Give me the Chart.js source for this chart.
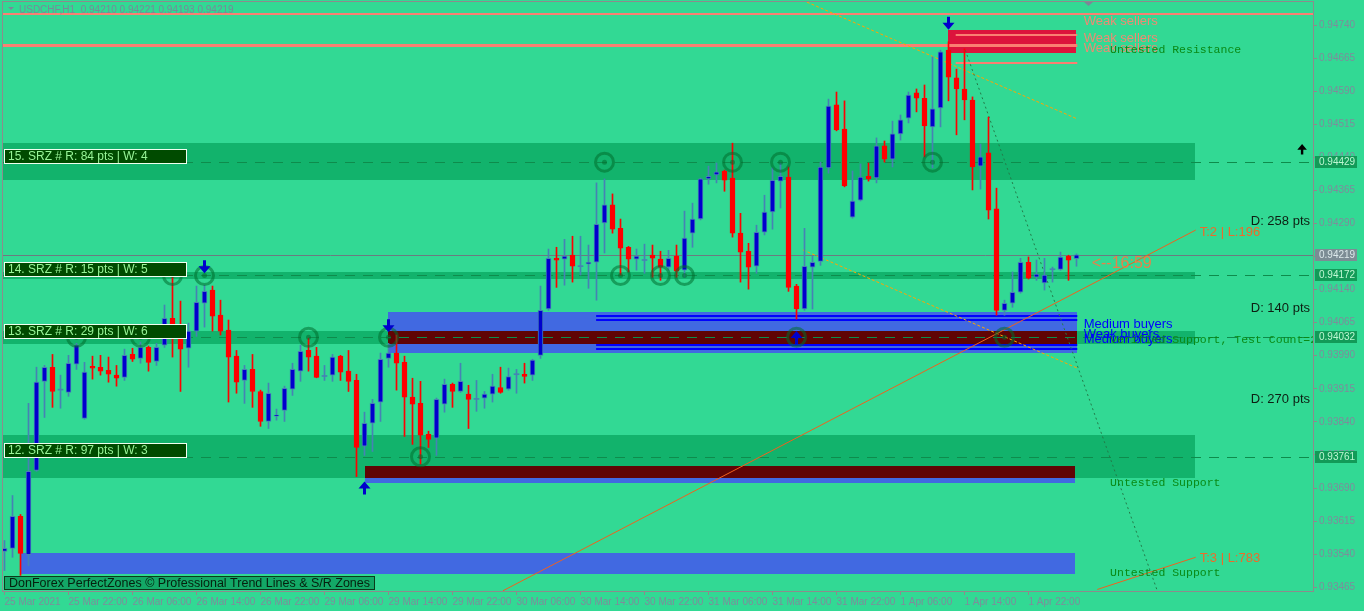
<!DOCTYPE html>
<html>
<head>
<meta charset="utf-8">
<script src="https://cdn.jsdelivr.net/npm/chart.js@4.4.1/dist/chart.umd.min.js"></script>
<style>
  html, body { margin: 0; padding: 0; background: #32D994; }
  #wrap { width: 1364px; height: 611px; }
</style>
</head>
<body>
<div id="wrap"><canvas id="c" width="1364" height="611"></canvas></div>
<script>
// USDCHF H1, one bar per hour starting 25 Mar 2021 14:00
const opens = [0.93546,0.93553,0.93626,0.93539,0.93730,0.93932,0.93964,0.93912,0.93907,0.93971,
  0.93848,0.93966,0.93964,0.93957,0.93946,0.93941,0.93993,0.93984,0.94009,0.93977,
  0.94014,0.94075,0.94048,0.94007,0.94046,0.94109,0.94139,0.94082,0.94048,0.93989,
  0.93934,0.93959,0.93909,0.93841,0.93853,0.93866,0.93914,0.93955,0.94002,0.93989,
  0.93943,0.93946,0.93989,0.93955,0.93934,0.93785,0.93837,0.93885,0.93984,0.93996,
  0.93975,0.93896,0.93882,0.93812,0.93803,0.93880,0.93925,0.93909,0.93903,0.93891,
  0.93894,0.93903,0.93918,0.93914,0.93947,0.93948,0.93946,0.93991,0.94096,0.94211,
  0.94209,0.94218,0.94192,0.94198,0.94202,0.94291,0.94332,0.94279,0.94236,0.94209,
  0.94206,0.94218,0.94209,0.94191,0.94216,0.94184,0.94268,0.94300,0.94391,0.94400,
  0.94409,0.94393,0.94268,0.94227,0.94193,0.94270,0.94316,0.94386,0.94395,0.94148,
  0.94096,0.94191,0.94204,0.94416,0.94559,0.94504,0.94304,0.94343,0.94397,0.94393,
  0.94466,0.94436,0.94493,0.94529,0.94586,0.94574,0.94509,0.94552,0.94683,0.94620,
  0.94595,0.94570,0.94420,0.94450,0.94323,0.94093,0.94109,0.94134,0.94202,0.94168,
  0.94155,0.94185,0.94186,0.94216,0.94210];
const highs = [0.93571,0.93673,0.93630,0.93882,0.93964,0.93968,0.93993,0.93946,0.93991,0.94018,
  0.93975,0.93989,0.93991,0.93987,0.93968,0.94005,0.94007,0.94021,0.94012,0.94018,
  0.94105,0.94177,0.94114,0.94064,0.94148,0.94150,0.94148,0.94116,0.94071,0.94002,
  0.93968,0.93993,0.93912,0.93928,0.93869,0.93921,0.93973,0.94014,0.94030,0.94009,
  0.93968,0.93993,0.93991,0.94002,0.93948,0.93862,0.93891,0.93996,0.94018,0.94037,
  0.93989,0.93939,0.93932,0.93819,0.93894,0.93937,0.93928,0.93973,0.93923,0.93934,
  0.93909,0.93948,0.93964,0.93962,0.93959,0.93973,0.93982,0.94148,0.94232,0.94236,
  0.94254,0.94261,0.94261,0.94241,0.94382,0.94391,0.94357,0.94300,0.94238,0.94232,
  0.94243,0.94241,0.94227,0.94229,0.94241,0.94318,0.94336,0.94393,0.94420,0.94427,
  0.94411,0.94472,0.94313,0.94245,0.94286,0.94354,0.94416,0.94427,0.94418,0.94152,
  0.94279,0.94216,0.94429,0.94572,0.94588,0.94568,0.94409,0.94425,0.94427,0.94484,
  0.94477,0.94522,0.94536,0.94588,0.94595,0.94604,0.94668,0.94683,0.94702,0.94640,
  0.94686,0.94577,0.94470,0.94531,0.94370,0.94116,0.94180,0.94211,0.94214,0.94207,
  0.94211,0.94191,0.94225,0.94218,0.94221];
const lows = [0.93503,0.93533,0.93492,0.93514,0.93728,0.93850,0.93873,0.93871,0.93898,0.93959,
  0.93846,0.93937,0.93946,0.93930,0.93921,0.93934,0.93977,0.93973,0.93955,0.93968,
  0.94009,0.93987,0.93909,0.93964,0.94034,0.94055,0.94046,0.94037,0.93885,0.93905,
  0.93882,0.93873,0.93830,0.93825,0.93844,0.93841,0.93900,0.93932,0.93955,0.93940,
  0.93934,0.93932,0.93934,0.93909,0.93716,0.93764,0.93773,0.93841,0.93964,0.93912,
  0.93807,0.93789,0.93744,0.93782,0.93764,0.93862,0.93873,0.93907,0.93825,0.93864,
  0.93871,0.93885,0.93905,0.93912,0.93905,0.93928,0.93934,0.93984,0.94093,0.94145,
  0.94150,0.94157,0.94173,0.94143,0.94116,0.94223,0.94268,0.94173,0.94180,0.94184,
  0.94177,0.94168,0.94161,0.94184,0.94168,0.94168,0.94236,0.94298,0.94379,0.94382,
  0.94363,0.94259,0.94157,0.94141,0.94177,0.94264,0.94277,0.94325,0.94136,0.94073,
  0.94093,0.94096,0.94195,0.94404,0.94500,0.94373,0.94302,0.94341,0.94386,0.94382,
  0.94429,0.94418,0.94479,0.94518,0.94543,0.94441,0.94416,0.94509,0.94568,0.94491,
  0.94525,0.94366,0.94368,0.94300,0.94082,0.94082,0.94100,0.94132,0.94164,0.94161,
  0.94139,0.94157,0.94184,0.94161,0.94193];
const closes = [0.93553,0.93626,0.93542,0.93728,0.93930,0.93964,0.93909,0.93913,0.93973,0.94014,
  0.93953,0.93962,0.93955,0.93948,0.93939,0.93991,0.93982,0.94009,0.93975,0.94009,
  0.94075,0.94059,0.94005,0.94046,0.94111,0.94136,0.94080,0.94046,0.93987,0.93930,
  0.93959,0.93909,0.93841,0.93905,0.93855,0.93916,0.93959,0.94000,0.93987,0.93941,
  0.93944,0.93987,0.93953,0.93932,0.93782,0.93837,0.93882,0.93982,0.93996,0.93973,
  0.93896,0.93880,0.93810,0.93800,0.93891,0.93925,0.93909,0.93932,0.93891,0.93892,
  0.93903,0.93921,0.93907,0.93943,0.93948,0.93943,0.93980,0.94093,0.94211,0.94207,
  0.94216,0.94193,0.94193,0.94202,0.94288,0.94332,0.94277,0.94234,0.94209,0.94216,
  0.94207,0.94211,0.94191,0.94211,0.94182,0.94257,0.94300,0.94391,0.94397,0.94407,
  0.94388,0.94268,0.94225,0.94191,0.94270,0.94316,0.94388,0.94397,0.94145,0.94096,
  0.94193,0.94202,0.94418,0.94556,0.94502,0.94375,0.94341,0.94395,0.94391,0.94466,
  0.94436,0.94493,0.94525,0.94581,0.94574,0.94511,0.94550,0.94679,0.94622,0.94595,
  0.94570,0.94418,0.94441,0.94320,0.94093,0.94109,0.94134,0.94202,0.94166,0.94175,
  0.94173,0.94186,0.94214,0.94207,0.94219];

const timeIdx = [0, 8, 16, 24, 32, 40, 48, 56, 64, 72, 80, 88, 96, 104, 112, 120, 128];
const timeLabels = ["25 Mar 2021", "25 Mar 22:00", "26 Mar 06:00", "26 Mar 14:00", "26 Mar 22:00",
  "29 Mar 06:00", "29 Mar 14:00", "29 Mar 22:00", "30 Mar 06:00", "30 Mar 14:00", "30 Mar 22:00",
  "31 Mar 06:00", "31 Mar 14:00", "31 Mar 22:00", "1 Apr 06:00", "1 Apr 14:00", "1 Apr 22:00"];
const priceTicks = [0.94740, 0.94665, 0.94590, 0.94515, 0.94440, 0.94365, 0.94290, 0.94215, 0.94140,
  0.94065, 0.93990, 0.93915, 0.93840, 0.93765, 0.93690, 0.93615, 0.93540, 0.93465];

// S/R zones
const zoneNames = ["15. SRZ # R: 84 pts | W: 4", "14. SRZ # R: 15 pts | W: 5",
  "13. SRZ # R: 29 pts | W: 6", "12. SRZ # R: 97 pts | W: 3"];
const zoneLevels = [0.94429, 0.94172, 0.94032, 0.93761];
const zoneHighs = [0.94472, 0.94181, 0.94046, 0.93810];
const zoneLows = [0.94388, 0.94164, 0.94017, 0.93712];
const zoneEnd = 148.8;

// touches of the zones (bar index, level)
const touchIdx = [9, 17, 21, 25, 38, 48, 52, 75, 77, 82, 85, 91, 97, 99, 116, 125];
const touchLevel = [0.94032, 0.94032, 0.94172, 0.94172, 0.94032, 0.94032, 0.93761, 0.94429,
  0.94172, 0.94172, 0.94172, 0.94429, 0.94429, 0.94032, 0.94429, 0.94032];

// supply / demand boxes
const boxFrom = [47.95, 45.05, 1.95];
const boxTo = [134.1, 133.8, 133.8];
const boxHigh = [0.94089, 0.93741, 0.93542];
const boxLow = [0.93997, 0.93701, 0.93494];
const coreFrom = [47.95, 45.05];
const coreTo = [134.1, 133.8];
const coreHigh = [0.94046, 0.93739];
const coreLow = [0.94017, 0.93712];
const buyLines = [0.94080, 0.94071, 0.94014, 0.94005];
const buyLineFrom = 73.95;
const sellBox = [117.9, 133.9, 0.94729, 0.94677];
const sellLines = [0.94718, 0.94654];
const resistLines = [0.94765, 0.94694];

// signal arrows
const arrowIdx = [25, 48, 118, 45, 99];
const arrowTip = [0.94177, 0.94043, 0.94729, 0.93705, 0.94046];
const arrowDown = [true, true, true, false, false];

// trend lines [index, price]
const channelA = [[100.3, 0.94792], [134.1, 0.94527]];
const channelB = [[99.8, 0.94230], [134.1, 0.93962]];
const trendT2 = [[62.3, 0.93457], [148.9, 0.94275]];
const trendT3 = [[136.6, 0.93460], [148.9, 0.93533]];
const dropLine = [[120.1, 0.94683], [144.1, 0.93457]];

// right side labels
const sellerLevels = [0.94739, 0.94702, 0.94678];
const buyerTexts = ["Medium buyers", "Weak buyers", "Medium buyers"];
const buyerLevels = [0.94054, 0.94031, 0.94020];
const srTexts = ["Untested Resistance", "Verified Support, Test Count=2", "Untested Support", "Untested Support"];
const srLevels = [0.94676, 0.94020, 0.93694, 0.93490];
const distTexts = ["D: 258 pts", "D: 140 pts", "D: 270 pts"];
const distLevels = [0.94286, 0.94089, 0.93883];
const trendTexts = ["T:2 | L:196", "T:3 | L:783"];
const trendTextLevels = [0.94261, 0.93522];

const last = opens.length - 1;
const bg = '#32D994';
const BULL = '#0000CD', BEAR = '#FF0000', STEEL = '#4682B4';

const isDoji = i => Math.abs(closes[i] - opens[i]) < 0.000015;
const bodyData = opens.map((o, i) => ({ x: i, y: [o, closes[i]] }));
const wickData = opens.map((o, i) => ({ x: i, y: [lows[i], highs[i]] }));
const bodyFill = opens.map((o, i) => isDoji(i) ? STEEL : (closes[i] > o ? BULL : BEAR));
const bodyLine = opens.map((o, i) => isDoji(i) ? STEEL : (closes[i] > o ? STEEL : BEAR));
const bodyBw = opens.map((o, i) => isDoji(i) ? 0 : 1);
const wickCol = opens.map((o, i) => closes[i] >= o || isDoji(i) ? STEEL : BEAR);
const touchData = touchIdx.map((v, i) => ({ x: v, y: touchLevel[i] }));

function hline(c, x1, x2, y, color, w, dash) {
  c.save();
  c.strokeStyle = color; c.lineWidth = w; c.setLineDash(dash || []);
  const yy = w % 2 ? Math.round(y) + 0.5 : Math.round(y);
  c.beginPath(); c.moveTo(x1, yy); c.lineTo(x2, yy); c.stroke();
  c.restore();
}
function seg(c, X, Y, pts, color, w, dash) {
  c.save();
  c.strokeStyle = color; c.lineWidth = w; c.setLineDash(dash || []);
  c.beginPath(); c.moveTo(X(pts[0][0]), Y(pts[0][1])); c.lineTo(X(pts[1][0]), Y(pts[1][1])); c.stroke();
  c.restore();
}
function arrow(c, x, tip, down, color, size) {
  const s = size || 1, d = down ? -1 : 1;
  c.save(); c.fillStyle = color;
  c.beginPath();
  c.moveTo(x, tip);
  c.lineTo(x - 6 * s, tip + d * 7 * s);
  c.lineTo(x - 1.5 * s, tip + d * 7 * s);
  c.lineTo(x - 1.5 * s, tip + d * 13 * s);
  c.lineTo(x + 1.5 * s, tip + d * 13 * s);
  c.lineTo(x + 1.5 * s, tip + d * 7 * s);
  c.lineTo(x + 6 * s, tip + d * 7 * s);
  c.closePath(); c.fill();
  c.restore();
}

const mt4 = {
  id: 'mt4',
  beforeDraw(chart) {
    const c = chart.ctx;
    c.save(); c.fillStyle = bg; c.fillRect(0, 0, chart.width, chart.height); c.restore();
  },
  beforeDatasetsDraw(chart) {
    const c = chart.ctx, a = chart.chartArea;
    const X = v => chart.scales.x.getPixelForValue(v);
    const Y = v => chart.scales.y.getPixelForValue(v);
    c.save();
    c.beginPath(); c.rect(a.left, a.top, a.right - a.left, a.bottom - a.top); c.clip();

    // zones
    c.fillStyle = '#12B36C';
    zoneLevels.forEach((lv, i) => {
      const y1 = Math.round(Y(zoneHighs[i])), y2 = Math.round(Y(zoneLows[i]));
      c.fillRect(a.left, y1, Math.round(X(zoneEnd)) - a.left, y2 - y1);
    });
    // demand boxes
    c.fillStyle = '#4169E1';
    boxFrom.forEach((f, i) => {
      const x1 = Math.round(X(f)), x2 = Math.round(X(boxTo[i]));
      const y1 = Math.round(Y(boxHigh[i])), y2 = Math.round(Y(boxLow[i]));
      c.fillRect(x1, y1, x2 - x1, y2 - y1);
    });
    c.fillStyle = '#600404';
    coreFrom.forEach((f, i) => {
      const x1 = Math.round(X(f)), x2 = Math.round(X(coreTo[i]));
      const y1 = Math.round(Y(coreHigh[i])), y2 = Math.round(Y(coreLow[i]));
      c.fillRect(x1, y1, x2 - x1, y2 - y1);
    });
    buyLines.forEach(lv => hline(c, X(buyLineFrom), X(boxTo[0]), Y(lv), '#0000FF', 2));

    // supply box
    c.fillStyle = '#DC143C';
    {
      const x1 = Math.round(X(sellBox[0])), x2 = Math.round(X(sellBox[1]));
      const y1 = Math.round(Y(sellBox[2])), y2 = Math.round(Y(sellBox[3]));
      c.fillRect(x1, y1, x2 - x1, y2 - y1);
    }
    sellLines.forEach(lv => hline(c, X(sellBox[0] + 1), X(134.1), Y(lv), '#FA8072', 2));
    hline(c, a.left, a.right, Y(resistLines[0]), '#FA8072', 2);
    hline(c, a.left, X(134.1), Y(resistLines[1]), '#FA8072', 3);

    // zone mid lines
    zoneLevels.forEach(lv => hline(c, a.left, a.right, Y(lv), '#0E8C4C', 1, [10, 8]));

    // current price
    hline(c, a.left, a.right, Y(closes[last]), '#6B7C80', 1);

    // channel & trend lines
    seg(c, X, Y, channelA, '#FFA500', 1, [3, 2]);
    seg(c, X, Y, channelB, '#FFA500', 1, [3, 2]);
    seg(c, X, Y, trendT2, '#F0601E', 1);
    seg(c, X, Y, trendT3, '#F0601E', 1);
    seg(c, X, Y, dropLine, '#237A48', 1, [2, 3]);
    c.restore();
  },
  afterDatasetsDraw(chart) {
    const c = chart.ctx, a = chart.chartArea;
    const X = v => chart.scales.x.getPixelForValue(v);
    const Y = v => chart.scales.y.getPixelForValue(v);
    c.save();
    c.beginPath(); c.rect(a.left, a.top, a.right - a.left, a.bottom - a.top); c.clip();

    arrowIdx.forEach((v, i) => arrow(c, X(v), Y(arrowTip[i]), arrowDown[i], '#0000CD'));
    arrow(c, X(162.2), Y(0.94470), false, '#000000', 0.8);

    // zone labels
    c.font = "12px 'Liberation Sans', Arial, sans-serif";
    c.textBaseline = 'middle';
    zoneNames.forEach((t, i) => {
      const yb = Math.round(Y(zoneLevels[i]) + 1.5);
      c.fillStyle = '#004B00';
      c.fillRect(a.left + 1, yb - 15, 183, 15);
      c.strokeStyle = '#F0FFF0'; c.lineWidth = 1;
      c.strokeRect(a.left + 1.5, yb - 14.5, 182, 14);
      c.fillStyle = '#98F598';
      c.fillText(t, a.left + 5, yb - 7);
    });

    c.textBaseline = 'alphabetic';
    c.textAlign = 'left';
    c.font = "13px 'Liberation Sans', Arial, sans-serif";
    c.fillStyle = '#F08A72';
    sellerLevels.forEach(lv => c.fillText('Weak sellers', X(134.9), Y(lv)));
    c.fillStyle = '#0000FF';
    buyerTexts.forEach((t, i) => c.fillText(t, X(134.9), Y(buyerLevels[i])));

    c.font = "11.5px 'Liberation Mono', 'Courier New', monospace";
    c.fillStyle = '#0A8A16';
    srTexts.forEach((t, i) => c.fillText(t, X(138.2), Y(srLevels[i])));

    c.font = "16px 'Liberation Sans', Arial, sans-serif";
    c.fillStyle = '#E8804A';
    c.fillText('<--16:59', X(135.9), Y(0.94189));

    c.font = "13px 'Liberation Sans', Arial, sans-serif";
    c.fillStyle = '#EE6A2A';
    trendTexts.forEach((t, i) => c.fillText(t, X(149.4), Y(trendTextLevels[i])));

    c.fillStyle = '#0E1E12';
    c.textAlign = 'right';
    distTexts.forEach((t, i) => c.fillText(t, a.right - 3, Y(distLevels[i])));

    // footer badge
    c.textAlign = 'left';
    c.font = "12.5px 'Liberation Sans', Arial, sans-serif";
    const foot = 'DonForex PerfectZones \u00A9 Professional Trend Lines & S/R Zones';
    const fw = c.measureText(foot).width;
    c.fillStyle = '#13A866';
    c.fillRect(a.left + 1, a.bottom - 15, fw + 10, 14);
    c.strokeStyle = '#0B3B1B'; c.lineWidth = 1;
    c.strokeRect(a.left + 1.5, a.bottom - 14.5, fw + 9, 13);
    c.fillStyle = '#06200E';
    c.textBaseline = 'middle';
    c.fillText(foot, a.left + 6, a.bottom - 7.5);
    c.restore();
  },
  afterDraw(chart) {
    const c = chart.ctx, a = chart.chartArea;
    const Y = v => chart.scales.y.getPixelForValue(v);
    c.save();
    // price badges on the axis
    c.font = "10px 'Liberation Sans', Arial, sans-serif";
    c.textBaseline = 'middle';
    const badge = (v, fill, txt) => {
      const y = Math.round(Y(v));
      c.fillStyle = fill;
      c.fillRect(a.right + 2, y - 6, 42, 12);
      c.fillStyle = txt;
      c.fillText(v.toFixed(5), a.right + 6, y + 0.5);
    };
    zoneLevels.forEach(v => badge(v, '#129B58', '#BDF7D2'));
    badge(closes[last], '#7C8C94', '#DCE8EA');

    // frame
    c.strokeStyle = '#8C8C8C'; c.lineWidth = 1;
    c.strokeRect(a.left - 0.5, a.top - 0.5, a.right - a.left + 1, a.bottom - a.top + 1);

    // header
    c.fillStyle = '#7A8898';
    c.beginPath(); c.moveTo(8, 7); c.lineTo(14, 7); c.lineTo(11, 10); c.closePath(); c.fill();
    c.beginPath(); c.moveTo(1084, 2); c.lineTo(1093, 2); c.lineTo(1088.5, 6); c.closePath(); c.fill();
    c.font = "10px 'Liberation Sans', Arial, sans-serif";
    c.textBaseline = 'alphabetic';
    c.fillText('USDCHF,H1  ' + [opens[last], highs[last], lows[last], closes[last]].map(v => v.toFixed(5)).join(' '), 19, 13);
    c.restore();
  }
};

new Chart(document.getElementById('c'), {
  type: 'bar',
  data: {
    datasets: [
      { type: 'scatter', data: touchData, pointStyle: 'circle', pointRadius: 9, pointBorderWidth: 3,
        pointBackgroundColor: 'rgba(0,0,0,0)', pointBorderColor: 'rgba(0,110,45,0.55)', order: 0 },
      { type: 'scatter', data: touchData, pointStyle: 'circle', pointRadius: 2.5, pointBorderWidth: 0,
        pointBackgroundColor: 'rgba(0,110,45,0.55)', order: 0 },
      { data: bodyData, backgroundColor: bodyFill, borderColor: bodyLine, borderWidth: bodyBw,
        borderSkipped: false, barThickness: 5, minBarLength: 1, grouped: false, order: 1 },
      { data: wickData, backgroundColor: wickCol, borderWidth: 0, barThickness: 1,
        minBarLength: 1, grouped: false, order: 2 }
    ]
  },
  options: {
    responsive: false,
    animation: false,
    devicePixelRatio: 1,
    layout: { autoPadding: false, padding: { left: 3, top: 2, right: 0, bottom: 0 } },
    plugins: { legend: { display: false }, tooltip: { enabled: false } },
    scales: {
      x: {
        type: 'linear', min: -0.1875, max: 163.5625, offset: false,
        grid: { offset: false, drawOnChartArea: false, tickLength: 4, color: '#8C8C8C' },
        border: { color: '#8C8C8C' },
        ticks: {
          autoSkip: false, maxRotation: 0, align: 'start', padding: 1,
          color: '#7E8C9B', font: { family: "'Liberation Sans', Arial, sans-serif", size: 10 },
          callback: v => { const k = timeIdx.indexOf(v); return k < 0 ? '' : timeLabels[k]; }
        },
        afterBuildTicks: s => { s.ticks = timeIdx.map(v => ({ value: v })); },
        afterFit: s => { s.height = 20; s.paddingLeft = 0; s.paddingRight = 0; }
      },
      y: {
        type: 'linear', position: 'right', min: 0.934565, max: 0.947922, beginAtZero: false,
        grid: { drawOnChartArea: false, tickLength: 4, color: '#8C8C8C' },
        border: { color: '#8C8C8C' },
        ticks: {
          padding: 2, color: '#7E8C9B', font: { family: "'Liberation Sans', Arial, sans-serif", size: 10 },
          callback: v => v.toFixed(5)
        },
        afterBuildTicks: s => { s.ticks = priceTicks.map(v => ({ value: v })); },
        afterFit: s => { s.width = 51; s.paddingTop = 0; s.paddingBottom = 0; }
      }
    }
  },
  plugins: [mt4]
});
</script>
</body>
</html>
